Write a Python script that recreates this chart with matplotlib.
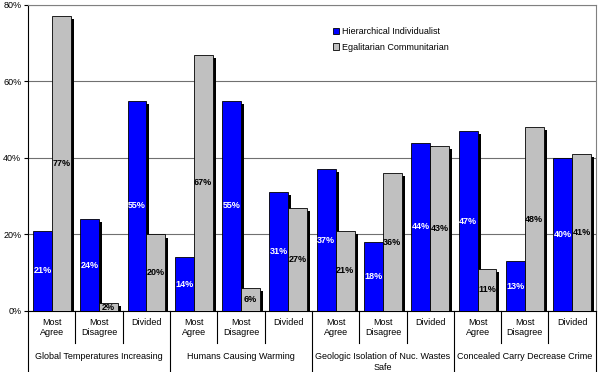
import matplotlib
matplotlib.use('Agg')
import matplotlib.pyplot as plt
import matplotlib.transforms as mtransforms
import numpy as np

plt.rcParams['font.family'] = ['Liberation Sans', 'DejaVu Sans']

# data
groups = ["Global Temperatures Increasing", "Humans Causing Warming",
          "Geologic Isolation of Nuc. Wastes\nSafe", "Concealed Carry Decrease Crime"]
subcats = ["Most\nAgree", "Most\nDisagree", "Divided"]
hier_ind = [21, 24, 55, 14, 55, 31, 37, 18, 44, 47, 13, 40]
egal_com = [77, 2, 20, 67, 6, 27, 21, 36, 43, 11, 48, 41]
yticks = [0, 20, 40, 60, 80]

blue = "#0000FF"
grey = "#C0C0C0"

fig = plt.figure(figsize=(6, 3.72), dpi=100)
ax = fig.add_axes([0.047, 0.164, 0.946, 0.823])

x = np.arange(len(hier_ind))
w = 0.4
dx = 0.063   # shadow offset (x, data units)
dy = 0.8     # shadow offset (y, %)

# drop shadows
for xs, vals in [(x - w / 2, hier_ind), (x + w / 2, egal_com)]:
    ax.bar(xs + dx, np.maximum(np.array(vals) - dy, 0), width=w,
           color="black", zorder=2)

ax.bar(x - w / 2, hier_ind, width=w, color=blue, edgecolor="black",
       linewidth=0.6, zorder=3, label="Hierarchical Individualist")
ax.bar(x + w / 2, egal_com, width=w, color=grey, edgecolor="black",
       linewidth=0.6, zorder=3, label="Egalitarian Communitarian")

# value labels at half height
for xi, v in zip(x - w / 2, hier_ind):
    ax.text(xi, v / 2, f"{v}%", ha="center", va="center", color="white",
            fontsize=6.5, fontweight="bold", zorder=4)
for xi, v in zip(x + w / 2, egal_com):
    ax.text(xi, v / 2, f"{v}%", ha="center", va="center", color="black",
            fontsize=6.5, fontweight="bold", zorder=4)

ax.set_xlim(-0.5, len(x) - 0.5)
ax.set_ylim(0, 80)
ax.set_yticks(yticks)
ax.set_yticklabels([f"{t}%" for t in yticks], fontsize=6.5)
ax.yaxis.grid(True, color="#707070", linewidth=0.8, zorder=0)
ax.set_axisbelow(True)
ax.tick_params(axis="y", length=3, width=0.8, pad=2)

ax.set_xticks(x)
ax.set_xticklabels(subcats * len(groups), fontsize=6.5, va="top")
ax.tick_params(axis="x", length=0, pad=5)

for s in ["top", "right"]:
    ax.spines[s].set_color("#808080")
ax.spines["left"].set_linewidth(0.8)
ax.spines["bottom"].set_linewidth(0.8)

# separators under the axis
trans = mtransforms.blended_transform_factory(ax.transData, ax.transAxes)
for b in np.arange(-0.5, len(x), 1.0):
    idx = int(b + 0.5)
    y_end = -0.33 if idx % 3 == 0 else -0.105
    ax.plot([b, b], [0, y_end], color="black", linewidth=0.8,
            transform=trans, clip_on=False)

for gi, g in enumerate(groups):
    ax.text(gi * 3 + 1, -0.135, g, transform=trans, ha="center", va="top",
            fontsize=6.5, linespacing=1.3)

leg = ax.legend(loc="upper left", bbox_to_anchor=(0.523, 0.953), frameon=False,
                fontsize=6.5, handlelength=0.7, handleheight=0.7,
                handletextpad=0.3, labelspacing=0.7)

fig.savefig("out.png", dpi=100)
